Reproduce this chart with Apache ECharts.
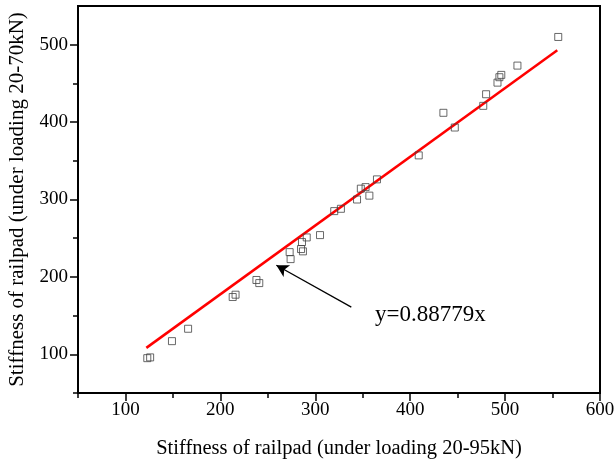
<!DOCTYPE html>
<html>
<head>
<meta charset="utf-8">
<script src="https://cdn.jsdelivr.net/npm/echarts@6/dist/echarts.min.js"></script>
<style>
  html, body { margin: 0; padding: 0; background: #fff; }
  #chart { width: 615px; height: 465px; }
</style>
</head>
<body>
<div id="chart"></div>
<script>
const stiffness95 = [123, 126, 149, 166, 213, 216, 238, 241, 273, 274, 285, 287, 286, 291, 305, 320, 327,
  344, 348, 353, 357, 365, 409, 447, 435, 477, 480, 492, 494, 496, 513, 556];
const stiffness70 = [95, 96, 117, 133, 174, 177, 196, 192, 232, 223, 236, 233, 245, 251, 254, 285, 288,
  300, 314, 316, 305, 326, 357, 393, 412, 421, 436, 451, 458, 461, 473, 510];

// fitted line y = 0.88779x, end points
const fitX = [122, 555];
const fitY = [108.3, 492.7];

// arrow pointing at the fit line: [tail, head]
const arrowFrom = [338, 161];
const arrowTo = [259, 215];

const xMajorTicks = [100, 200, 300, 400, 500, 600];
const xMinorTicks = [50, 150, 250, 350, 450, 550];
const yMajorTicks = [100, 200, 300, 400, 500];
const yMinorTicks = [50, 150, 250, 350, 450];

const fitLabel = 'y=0.88779x';
const xTitle = 'Stiffness of railpad (under loading 20-95kN)';
const yTitle = 'Stiffness of railpad (under loading 20-70kN)';

const font = 'Liberation Serif';
const chart = echarts.init(document.getElementById('chart'), null, { renderer: 'canvas' });

const baseAxis = (extra) => Object.assign({
  type: 'value',
  splitLine: { show: false },
  axisLine: { show: true, onZero: false, lineStyle: { color: '#000', width: 2 } }
}, extra);

chart.setOption({
  animation: false,
  backgroundColor: '#fff',
  grid: {
    left: 78, right: 15, top: 6, bottom: 72,
    outerBoundsMode: 'none',
    show: true, borderColor: '#000', borderWidth: 2, backgroundColor: 'transparent'
  },
  xAxis: [
    baseAxis({
      min: 50, max: 600,
      name: xTitle, nameLocation: 'middle', nameGap: 45,
      nameTextStyle: { fontFamily: font, fontSize: 20.5, color: '#000' },
      axisTick: { show: true, customValues: xMajorTicks, length: 8, lineStyle: { color: '#000', width: 1.5 } },
      axisLabel: { customValues: xMajorTicks, fontFamily: font, fontSize: 19, color: '#000', margin: 8 }
    }),
    baseAxis({
      min: 50, max: 600, position: 'bottom',
      axisLine: { show: false },
      axisTick: { show: true, customValues: xMinorTicks, length: 5, lineStyle: { color: '#000', width: 1.5 } },
      axisLabel: { show: false }
    })
  ],
  yAxis: [
    baseAxis({
      min: 50, max: 550,
      name: yTitle, nameLocation: 'middle', nameGap: 50,
      nameTextStyle: { fontFamily: font, fontSize: 21, color: '#000' },
      axisTick: { show: true, customValues: yMajorTicks, length: 8, lineStyle: { color: '#000', width: 1.5 } },
      axisLabel: { customValues: yMajorTicks, fontFamily: font, fontSize: 19, color: '#000', margin: 10 }
    }),
    baseAxis({
      min: 50, max: 550, position: 'left',
      axisLine: { show: false },
      axisTick: { show: true, customValues: yMinorTicks, length: 5, lineStyle: { color: '#000', width: 1.5 } },
      axisLabel: { show: false }
    })
  ],
  series: [
    {
      name: 'fit',
      type: 'line',
      data: fitX.map((x, i) => [x, fitY[i]]),
      symbol: 'none',
      lineStyle: { color: '#ff0000', width: 2.5 },
      z: 2,
      markLine: {
        silent: true,
        symbol: ['none', 'arrow'],
        symbolSize: [10, 12],
        label: { show: false },
        lineStyle: { color: '#000', width: 1.3, type: 'solid' },
        data: [[{ coord: arrowFrom }, { coord: arrowTo }]]
      }
    },
    {
      name: 'measured',
      type: 'scatter',
      data: stiffness95.map((x, i) => [x, stiffness70[i]]),
      symbol: 'rect',
      symbolSize: 7,
      itemStyle: { color: 'rgba(0,0,0,0)', borderColor: '#444', borderWidth: 1 },
      z: 3
    }
  ],
  graphic: [{
    type: 'text',
    left: 375,
    top: 303,
    style: { text: fitLabel, fontFamily: font, fontSize: 23, fill: '#000' }
  }]
});
</script>
</body>
</html>
